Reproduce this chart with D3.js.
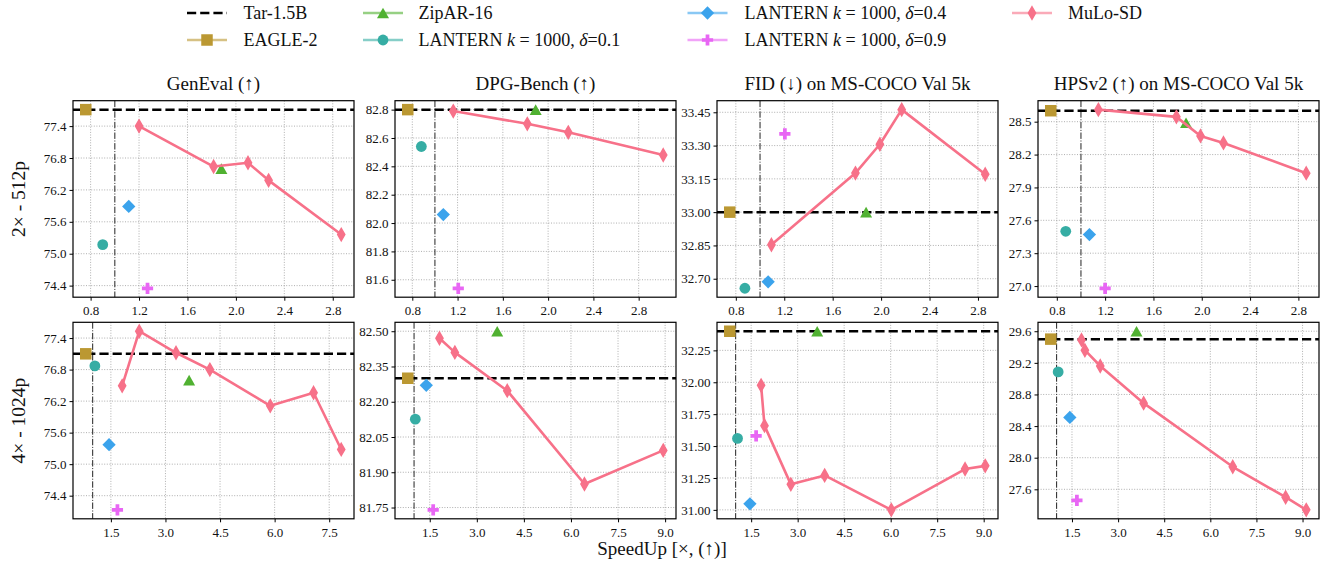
<!DOCTYPE html>
<html>
<head>
<meta charset="utf-8">
<script src="https://cdn.jsdelivr.net/npm/d3@7"></script>
<style>
  body { margin: 0; background: #fff; }
  svg text { font-family: "Liberation Serif", "DejaVu Serif", serif; fill: #111; }
</style>
</head>
<body>
<script>
// ---- data ----
const rowLabels = ["2× - 512p", "4× - 1024p"];
const metricTitles = ["GenEval (↑)", "DPG-Bench (↑)", "FID (↓) on MS-COCO Val 5k", "HPSv2 (↑) on MS-COCO Val 5k"];

// [row][panel]
const tarY = [[77.71, 82.80, 33.00, 28.60], [77.10, 82.30, 32.40, 29.50]];

const eagleX = [[0.76, 0.76, 0.75, 0.75], [0.81, 0.80, 0.81, 0.81]];
const eagleY = [[77.71, 82.80, 33.00, 28.60], [77.10, 82.30, 32.40, 29.50]];

const ziparX = [[1.88, 1.89, 1.876, 1.87], [3.65, 3.65, 3.63, 3.60]];
const ziparY = [[76.60, 82.80, 33.00, 28.49], [76.60, 82.50, 32.40, 29.60]];

const lantern01X = [[0.90, 0.88, 0.875, 0.874], [1.06, 1.04, 1.06, 1.05]];
const lantern01Y = [[75.17, 82.54, 32.657, 27.50], [76.87, 82.126, 31.56, 29.085]];

const lantern04X = [[1.115, 1.074, 1.067, 1.07], [1.45, 1.39, 1.46, 1.43]];
const lantern04Y = [[75.89, 82.06, 32.686, 27.47], [75.37, 82.27, 31.047, 28.51]];

const lantern09X = [[1.27, 1.206, 1.205, 1.20], [1.68, 1.61, 1.66, 1.66]];
const lantern09Y = [[74.35, 81.54, 33.353, 26.98], [74.13, 81.74, 31.58, 27.46]];

const muloX = [
  [[1.20, 1.816, 2.10, 2.27, 2.87], [1.162, 1.816, 2.178, 3.017], [1.094, 1.788, 1.99, 2.17, 2.86], [1.144, 1.79, 1.99, 2.18, 2.865]],
  [[1.81, 2.28, 3.29, 4.22, 5.88, 7.07, 7.83], [1.81, 2.30, 3.97, 6.43, 8.94], [1.82, 1.93, 2.78, 3.87, 6.02, 8.40, 9.05], [1.81, 1.92, 2.42, 3.83, 6.73, 8.45, 9.12]]
];
const muloY = [
  [[77.40, 76.64, 76.71, 76.38, 75.36], [82.79, 82.70, 82.64, 82.48], [32.853, 33.176, 33.306, 33.462, 33.171], [28.61, 28.544, 28.37, 28.306, 28.03]],
  [[76.49, 77.53, 77.12, 76.80, 76.11, 76.36, 75.28], [82.47, 82.41, 82.247, 81.85, 81.993], [31.976, 31.66, 31.20, 31.27, 31.00, 31.32, 31.345], [29.49, 29.36, 29.16, 28.69, 27.885, 27.50, 27.34]]
];

const xTicks = [[0.8, 1.2, 1.6, 2.0, 2.4, 2.8], [1.5, 3.0, 4.5, 6.0, 7.5, 9.0]];
const yTicks = [
  [[74.4, 75.0, 75.6, 76.2, 76.8, 77.4], [81.6, 81.8, 82.0, 82.2, 82.4, 82.6, 82.8], [32.70, 32.85, 33.00, 33.15, 33.30, 33.45], [27.0, 27.3, 27.6, 27.9, 28.2, 28.5]],
  [[74.4, 75.0, 75.6, 76.2, 76.8, 77.4], [81.75, 81.90, 82.05, 82.20, 82.35, 82.50], [31.00, 31.25, 31.50, 31.75, 32.00, 32.25], [27.6, 28.0, 28.4, 28.8, 29.2, 29.6]]
];
const yDecimals = [[1, 1, 2, 1], [1, 2, 2, 1]];
const baseSpeed = 1.0;

const lanternDeltas = ["0.1", "0.4", "0.9"];

// ---- layout ----
const W = 1324, H = 563;
const colLeft = [73, 395, 717, 1038];
const rowTop = [100.7, 322.3];
const pw = 281, ph = 196.5;

const colors = {
  mulo: "#f77189", eagle: "#bb9832", zipar: "#50b131",
  l01: "#36ada4", l04: "#3ba3ec", l09: "#e866f4"
};

const svg = d3.select("body").append("svg")
  .attr("width", W).attr("height", H);

// marker shapes
function markerPath(type) {
  if (type === "triangle") {
    return d3.line()([[0, -5.3], [6, 5.3], [-6, 5.3]]) + "Z";
  }
  if (type === "plus") return d3.symbol(d3.symbolCross, 70)();
  if (type === "thin") return d3.symbol(d3.symbolDiamond, 44)();
  if (type === "circle") return d3.symbol(d3.symbolCircle, Math.PI * 5.4 * 5.4)();
  if (type === "square") return d3.symbol(d3.symbolSquare, 11.5 * 11.5)();
  if (type === "diamond") return d3.symbol(d3.symbolSquare, 9.4 * 9.4)();
}

function addMarker(g, type, color, cx, cy) {
  const p = g.append("path")
    .attr("d", markerPath(type))
    .attr("fill", color)
    .attr("transform", `translate(${cx},${cy})` + (type === "diamond" ? " rotate(45)" : ""));
  if (type === "thin") p.attr("stroke", color).attr("stroke-width", 1.5);
  return p;
}

function drawPanel(r, c) {
  const xs = [eagleX[r][c], ziparX[r][c], lantern01X[r][c], lantern04X[r][c], lantern09X[r][c], ...muloX[r][c]];
  const ys = [tarY[r][c], eagleY[r][c], ziparY[r][c], lantern01Y[r][c], lantern04Y[r][c], lantern09Y[r][c], ...muloY[r][c]];
  const ex = d3.extent(xs), ey = d3.extent(ys);
  const mx = (ex[1] - ex[0]) * 0.05, my = (ey[1] - ey[0]) * 0.05;
  const x = d3.scaleLinear().domain([ex[0] - mx, ex[1] + mx]).range([0, pw]);
  const y = d3.scaleLinear().domain([ey[0] - my, ey[1] + my]).range([ph, 0]);

  const g = svg.append("g").attr("transform", `translate(${colLeft[c]},${rowTop[r]})`);
  const xt = xTicks[r].filter(v => v >= x.domain()[0] && v <= x.domain()[1]);
  const yt = yTicks[r][c];

  // grid
  g.selectAll(".gx").data(xt).enter().append("line")
    .attr("x1", d => x(d)).attr("x2", d => x(d)).attr("y1", 0).attr("y2", ph)
    .attr("stroke", "#9a9a9a").attr("stroke-width", 0.8).attr("stroke-dasharray", "1,1.6");
  g.selectAll(".gy").data(yt).enter().append("line")
    .attr("y1", d => y(d)).attr("y2", d => y(d)).attr("x1", 0).attr("x2", pw)
    .attr("stroke", "#9a9a9a").attr("stroke-width", 0.8).attr("stroke-dasharray", "1,1.6");

  // baseline speed (x = 1)
  g.append("line")
    .attr("x1", x(baseSpeed)).attr("x2", x(baseSpeed)).attr("y1", 0).attr("y2", ph)
    .attr("stroke", "#222").attr("stroke-width", 1).attr("stroke-dasharray", "6.4,1.6,1,1.6");

  // Tar-1.5B reference
  g.append("line")
    .attr("x1", 0).attr("x2", pw).attr("y1", y(tarY[r][c])).attr("y2", y(tarY[r][c]))
    .attr("stroke", "#000").attr("stroke-width", 2.5).attr("stroke-dasharray", "9.2,4");

  addMarker(g, "square", colors.eagle, x(eagleX[r][c]), y(eagleY[r][c]));
  addMarker(g, "triangle", colors.zipar, x(ziparX[r][c]), y(ziparY[r][c]));
  addMarker(g, "circle", colors.l01, x(lantern01X[r][c]), y(lantern01Y[r][c]));
  addMarker(g, "diamond", colors.l04, x(lantern04X[r][c]), y(lantern04Y[r][c]));
  addMarker(g, "plus", colors.l09, x(lantern09X[r][c]), y(lantern09Y[r][c]));

  const pts = muloX[r][c].map((v, i) => [v, muloY[r][c][i]]);
  g.append("path")
    .attr("d", d3.line().x(d => x(d[0])).y(d => y(d[1]))(pts))
    .attr("fill", "none").attr("stroke", colors.mulo).attr("stroke-width", 2.6)
    .attr("stroke-linejoin", "round");
  pts.forEach(d => addMarker(g, "thin", colors.mulo, x(d[0]), y(d[1])));

  // frame
  g.append("rect").attr("width", pw).attr("height", ph)
    .attr("fill", "none").attr("stroke", "#000").attr("stroke-width", 1.2);

  // axes
  const ya = g.append("g").call(d3.axisLeft(y).tickValues(yt).tickSize(3.5).tickPadding(3)
    .tickFormat(d3.format("." + yDecimals[r][c] + "f")));
  const xa = g.append("g").attr("transform", `translate(0,${ph})`)
    .call(d3.axisBottom(x).tickValues(xt).tickSize(3.5).tickPadding(5).tickFormat(d3.format(".1f")));
  [ya, xa].forEach(a => {
    a.select(".domain").remove();
    a.selectAll("line").attr("stroke", "#000").attr("stroke-width", 1);
    a.selectAll("text").attr("font-size", 13).attr("font-family", "Liberation Serif").attr("fill", "#333");
  });

  if (r === 0) {
    svg.append("text").attr("x", colLeft[c] + pw / 2).attr("y", 90)
      .attr("text-anchor", "middle").attr("font-size", 19).text(metricTitles[c]);
  }
}

for (let r = 0; r < 2; r++) for (let c = 0; c < 4; c++) drawPanel(r, c);

// row labels
rowLabels.forEach((t, r) => {
  svg.append("text")
    .attr("transform", `translate(24.5,${rowTop[r] + ph / 2}) rotate(-90)`)
    .attr("text-anchor", "middle").attr("font-size", 19.5).text(t);
});

// x label
svg.append("text").attr("x", W / 2).attr("y", 555)
  .attr("text-anchor", "middle").attr("font-size", 19).text("SpeedUp [×, (↑)]");

// legend
const legendItems = [
  { label: ["Tar-1.5B"], kind: "dash" },
  { label: ["EAGLE-2"], kind: "square", color: colors.eagle },
  { label: ["ZipAR-16"], kind: "triangle", color: colors.zipar },
  { label: ["LANTERN ", "k", " = 1000, ", "δ", "=" + lanternDeltas[0]], kind: "circle", color: colors.l01 },
  { label: ["LANTERN ", "k", " = 1000, ", "δ", "=" + lanternDeltas[1]], kind: "diamond", color: colors.l04 },
  { label: ["LANTERN ", "k", " = 1000, ", "δ", "=" + lanternDeltas[2]], kind: "plus", color: colors.l09 },
  { label: ["MuLo-SD"], kind: "thin", color: colors.mulo }
];
const legHandleX = [187, 363, 687.5, 1012];
const legTextX = [243.5, 418.5, 744.5, 1068];
const legRowY = [13, 40];
const lg = svg.append("g");
legendItems.forEach((it, i) => {
  const col = Math.floor(i / 2), row = i % 2;
  const hx = legHandleX[col], cy = legRowY[row];
  if (it.kind === "dash") {
    lg.append("line").attr("x1", hx).attr("x2", hx + 40).attr("y1", cy).attr("y2", cy)
      .attr("stroke", "#000").attr("stroke-width", 2.5).attr("stroke-dasharray", "9.2,4");
  } else {
    lg.append("line").attr("x1", hx).attr("x2", hx + 40).attr("y1", cy).attr("y2", cy)
      .attr("stroke", it.color).attr("stroke-width", 2.5).attr("stroke-opacity", 0.6);
    addMarker(lg, it.kind, it.color, hx + 20, cy);
  }
  const t = lg.append("text").attr("x", legTextX[col]).attr("y", cy + 6).attr("font-size", 18);
  it.label.forEach(s => {
    const ts = t.append("tspan").text(s);
    if (s === "k" || s === "δ") ts.attr("font-style", "italic");
  });
});
</script>
</body>
</html>
